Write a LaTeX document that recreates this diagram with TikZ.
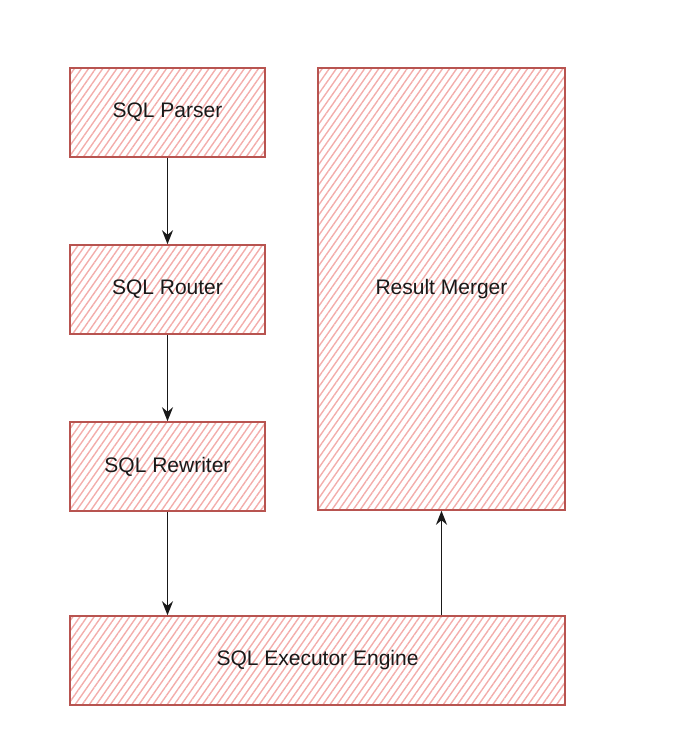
\documentclass[tikz,border=0pt]{standalone}
\usepackage{fontspec}
\setmainfont{Liberation Sans}
\usetikzlibrary{patterns.meta,arrows.meta}
\definecolor{edge}{HTML}{B85450}
\definecolor{hatch}{HTML}{F3ADAB}
\begin{document}
\begin{tikzpicture}[x=1pt, y=-1pt,
    box/.style={draw=edge, line width=1.5pt,
        pattern={Lines[angle=55, distance=5.8pt, line width=1.4pt]}, pattern color=hatch,
        font=\fontsize{21}{25}\selectfont, text=black!90, inner sep=0pt},
    link/.style={-{Stealth[length=14pt, width=11pt]}, line width=1.6pt, black!90}]
    \useasboundingbox (0,0) rectangle (700,731);

    \node[box, minimum width=195pt, minimum height=89pt] (parser) at (167.5,112.5) {SQL Parser};
    \node[box, minimum width=195pt, minimum height=89pt] (router) at (167.5,289.5) {SQL Router};
    \node[box, minimum width=195pt, minimum height=89pt] (rewriter) at (167.5,466.5) {SQL Rewriter};
    \node[box, minimum width=247pt, minimum height=442pt] (merger) at (441.5,289) {Result Merger};
    \node[box, minimum width=495pt, minimum height=89pt] (executor) at (317.5,660.5) {SQL Executor Engine};

    \draw[link] (parser) -- (router);
    \draw[link] (router) -- (rewriter);
    \draw[link] (rewriter.south) -- (rewriter.south |- executor.north);
    \draw[link] (executor.north -| merger) -- (merger.south);
\end{tikzpicture}
\end{document}
